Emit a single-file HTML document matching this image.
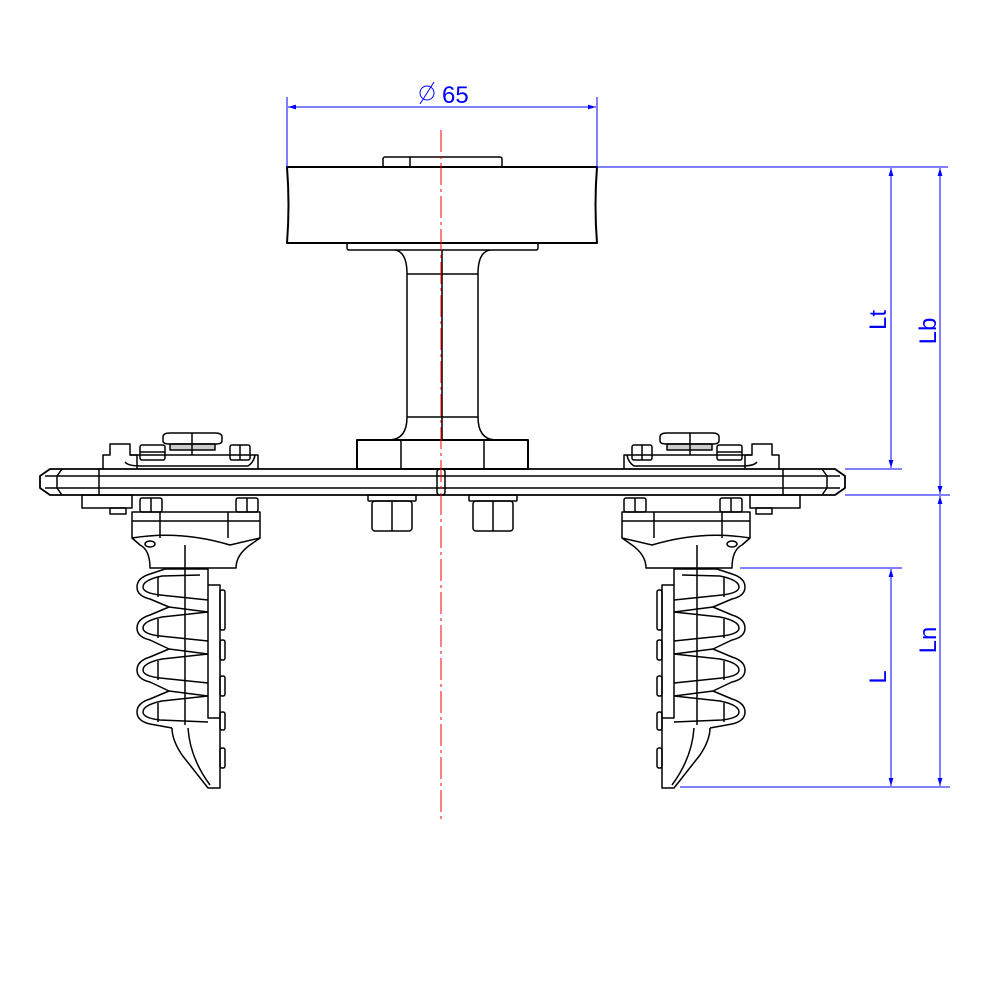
<!DOCTYPE html>
<html><head><meta charset="utf-8"><style>html,body{margin:0;padding:0;background:#fff}svg{display:block}</style></head>
<body>
<svg width="1000" height="1000" viewBox="0 0 1000 1000" xmlns="http://www.w3.org/2000/svg">
<defs>
<marker id="a" viewBox="0 0 10 10" refX="10" refY="5" markerWidth="8" markerHeight="14" orient="auto-start-reverse" markerUnits="userSpaceOnUse"><path d="M0,2 L10,5 L0,8 z" fill="#0000ff"/></marker>
</defs>
<g fill="none" stroke="#000" stroke-width="1.5" stroke-linejoin="round">
<!-- puck -->
<rect x="383" y="157" width="119" height="10" rx="2"/>
<line x1="410" y1="157" x2="410" y2="167"/>
<path d="M287,167 L597,167 Q594,205 597,243 L287,243 Q290,205 287,167 Z" stroke-width="2"/>
<rect x="347" y="243" width="191" height="7" rx="2"/>
<!-- neck -->
<path d="M395,250 Q407,252 407,274 L407,417 Q407,439 390,440"/>
<path d="M490,250 Q478,252 478,274 L478,417 Q478,439 495,440"/>
<line x1="407" y1="274" x2="478" y2="274"/><line x1="407" y1="417" x2="478" y2="417"/>
<line x1="442" y1="250" x2="442" y2="440"/>
<rect x="357" y="440" width="171" height="29" stroke-width="2"/>
<line x1="401" y1="440" x2="401" y2="469"/><line x1="484" y1="440" x2="484" y2="469"/>
<!-- plate -->
<path d="M50,469 L835,469 L845,476 L845,488 L835,495 L50,495 L40,488 L40,476 Z" stroke-width="1.8"/>
<line x1="45" y1="476" x2="840" y2="476"/><line x1="45" y1="488" x2="840" y2="488"/>
<line x1="99" y1="469" x2="99" y2="495"/><line x1="783" y1="469" x2="783" y2="495"/>
<path d="M62,469 L57,476 L57,488 L62,495"/><path d="M822,469 L827,476 L827,488 L822,495"/>
<rect x="437" y="469" width="8" height="26" rx="3"/>
<!-- center nuts -->
<rect x="368" y="495" width="48" height="6" rx="1"/><rect x="372" y="501" width="40" height="30" rx="3"/><line x1="392" y1="501" x2="392" y2="531"/>
<rect x="469" y="495" width="48" height="6" rx="1"/><rect x="473" y="501" width="40" height="30" rx="3"/><line x1="493" y1="501" x2="493" y2="531"/>

<g id="grip">
 <!-- top bracket -->
 <path d="M103,469 L103,455 L110,455 L110,444 L130,444 L130,455 L137,455 L137,469"/>
 <path d="M130,455 L258,455 L258,469"/>
 <path d="M125,462 Q128,466 140,466 L248,466 Q254,462 255,455"/>
 <rect x="140" y="445" width="25" height="15" rx="2"/><line x1="140" y1="452" x2="165" y2="452"/>
 <rect x="230" y="445" width="20" height="15" rx="2"/><line x1="240" y1="445" x2="240" y2="460"/>
 <path d="M163,437 Q163,433 170,433 L215,433 Q222,433 222,437 L222,441 Q222,444 215,444 L170,444 Q163,444 163,441 Z"/>
 <rect x="170" y="444" width="45" height="6" fill="#000" fill-opacity=".2"/>
 <line x1="192" y1="433" x2="192" y2="455"/>
 <!-- under bracket -->
 <rect x="82" y="495" width="50" height="13"/><rect x="110" y="508" width="16" height="6"/>
 <rect x="140" y="498" width="22" height="14" rx="2"/><line x1="151" y1="498" x2="151" y2="512"/>
 <rect x="236" y="498" width="22" height="14" rx="2"/><line x1="247" y1="498" x2="247" y2="512"/>
 <path d="M132,512 L132,538 L140,545 Q150,550 150,568 L236,568 Q236,555 250,545 L260,538 L260,512 Z"/>
 <line x1="132" y1="521" x2="260" y2="521"/><line x1="160" y1="512" x2="160" y2="538"/><line x1="228" y1="512" x2="228" y2="538"/>
 <path d="M132,538 Q180,530 230,545 L260,538"/>
 <line x1="185" y1="545" x2="185" y2="568"/>
 <ellipse cx="150" cy="544" rx="5" ry="3"/>
 <!-- fingers -->
 <path d="M208,569 L165,569 L150,574 Q137,578 137,587 Q137,596 150,599 L169,607
          L150,615 Q137,619 137,628 Q137,637 150,640 L169,649
          L150,657 Q137,661 137,670 Q137,679 150,682 L169,691
          L150,699 Q137,703 137,712 Q137,721 150,724 L172,728"/>
 <path d="M200,575 L162,576 Q143,580 143,587 Q143,593 160,595 L208,600"/>
 <path d="M208,612 L162,617 Q143,621 143,628 Q143,634 160,636 L208,641"/>
 <path d="M208,654 L162,659 Q143,663 143,670 Q143,676 160,678 L208,683"/>
 <path d="M208,696 L162,701 Q143,705 143,712 Q143,718 160,720 L208,722"/>
 <path d="M169,607 L208,612 M169,649 L208,654 M169,691 L208,696"/>
 <line x1="158" y1="577" x2="158" y2="597"/><line x1="158" y1="619" x2="158" y2="638"/><line x1="158" y1="661" x2="158" y2="680"/><line x1="158" y1="703" x2="158" y2="722"/>
 <line x1="185" y1="569" x2="185" y2="725"/>
 <rect x="208" y="585" width="12" height="133"/>
 <rect x="220" y="590" width="5" height="40" rx="2"/><rect x="220" y="640" width="5" height="20" rx="2"/><rect x="220" y="676" width="5" height="20" rx="2"/><rect x="220" y="712" width="5" height="18" rx="2"/><rect x="220" y="748" width="5" height="20" rx="2"/>
 <path d="M172,728 Q172,740 182,755 L208,788 L220,788 L220,718"/>
 <path d="M188,728 Q190,758 210,785"/>
 <line x1="208" y1="568" x2="208" y2="585"/>
</g>
<use href="#grip" transform="translate(882,0) scale(-1,1)"/>
</g>
<!-- centerline -->
<line x1="441" y1="130" x2="441" y2="822" stroke="#ff0000" stroke-width="1" stroke-dasharray="22,4,3,4"/>
<!-- dimensions -->
<g stroke="#0000ff" stroke-width="1" fill="none">
 <line x1="287" y1="97" x2="287" y2="167"/><line x1="597" y1="97" x2="597" y2="167"/>
 <line x1="288" y1="107" x2="596" y2="107" marker-start="url(#a)" marker-end="url(#a)"/>
 <line x1="597" y1="167" x2="948" y2="167"/>
 <line x1="845" y1="469" x2="902" y2="469"/>
 <line x1="845" y1="495" x2="950" y2="495"/>
 <line x1="740" y1="568" x2="902" y2="568"/>
 <line x1="680" y1="787" x2="950" y2="787"/>
 <line x1="891" y1="168" x2="891" y2="468" marker-start="url(#a)" marker-end="url(#a)"/>
 <line x1="940" y1="168" x2="940" y2="494" marker-start="url(#a)" marker-end="url(#a)"/>
 <line x1="940" y1="496" x2="940" y2="786" marker-start="url(#a)" marker-end="url(#a)"/>
 <line x1="891" y1="569" x2="891" y2="786" marker-start="url(#a)" marker-end="url(#a)"/>
 <circle cx="427" cy="93" r="7"/><line x1="420" y1="104" x2="434" y2="82"/>
</g>
<g fill="#0000ff" font-family="Liberation Sans, sans-serif" font-size="24">
 <text x="442" y="103">65</text>
 <text transform="translate(886,320) rotate(-90)" text-anchor="middle">Lt</text>
 <text transform="translate(936,331) rotate(-90)" text-anchor="middle">Lb</text>
 <text transform="translate(936,640) rotate(-90)" text-anchor="middle">Ln</text>
 <text transform="translate(886,677) rotate(-90)" text-anchor="middle">L</text>
</g>
</svg>
</body></html>
